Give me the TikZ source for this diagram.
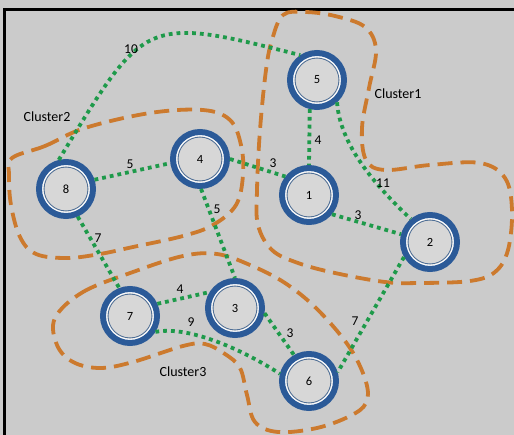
\documentclass[tikz,border=0pt]{standalone}
\usepackage{fontspec}
\setmainfont{Carlito}
\definecolor{bg}{HTML}{CBCBCB}
\definecolor{ringblue}{HTML}{2B5A98}
\definecolor{innerline}{HTML}{4F6F96}
\definecolor{dotgreen}{HTML}{1E9A4A}
\definecolor{clorange}{HTML}{CC7A2E}
\definecolor{innerfill}{HTML}{D7D7D7}
\begin{document}
\begin{tikzpicture}[x=1pt,y=-1pt,
  vertex/.style={circle, draw=ringblue, line width=6pt, fill=innerfill,
    minimum size=54pt, inner sep=0pt, font=\fontsize{12.5}{13}\selectfont,
    path picture={
      \draw[white, line width=1.6pt] (path picture bounding box.center) circle (23.6pt);
      \draw[innerline, line width=0.8pt] (path picture bounding box.center) circle (21.9pt);}},
  link/.style={dotgreen, line width=3.8pt, dash pattern=on 3.8pt off 4pt},
  cluster/.style={clorange, line width=3.8pt, dash pattern=on 15pt off 8pt},
  wlabel/.style={font=\fontsize{13.5}{14}\selectfont, inner sep=0pt},
  clabel/.style={font=\fontsize{14}{15}\selectfont, inner sep=0pt}]
\useasboundingbox (0,0) rectangle (514,435);
\fill[bg] (0,0) rectangle (514,435);
\draw[black, line width=3pt] (4.5,435) -- (4.5,9.5) -- (514,9.5);

% clusters
\draw[cluster] plot[smooth cycle, tension=0.6] coordinates {
  (272,40) (283,15) (305,12) (335,16) (365,27) (376,50) (369,88) (362,128)
  (366,160) (385,170) (430,165) (480,163) (505,178) (512,210) (508,250)
  (495,272) (470,281) (420,283) (385,282) (335,273) (298,263) (272,250)
  (258,225) (257,190) (260,130) (266,70)};
\draw[cluster] plot[smooth cycle, tension=0.6] coordinates {
  (12,158) (45,146) (85,128) (150,113) (203,110) (230,120) (241,145)
  (243,175) (236,205) (213,225) (183,236) (133,247) (100,254) (67,258)
  (36,254) (20,237) (11,205) (9,175)};
\draw[cluster] plot[smooth cycle, tension=0.6] coordinates {
  (55,318) (83,292) (133,272) (183,256) (217,254) (250,265) (285,283)
  (318,310) (350,348) (366,382) (366,403) (350,416) (317,428) (278,432)
  (255,422) (247,395) (240,368) (225,354) (205,344) (183,346) (133,362)
  (100,368) (73,362) (57,345)};

% nodes
\node[vertex] (n5) at (317,80) {5};
\node[vertex] (n4) at (200,159) {4};
\node[vertex] (n8) at (66,189) {8};
\node[vertex] (n1) at (309,195) {1};
\node[vertex] (n2) at (430,242) {2};
\node[vertex] (n7) at (130,316) {7};
\node[vertex] (n3) at (235,308) {3};
\node[vertex] (n6) at (309,381) {6};

% connectors
\draw[link] (n8.104) .. controls (145,18) and (143,15) .. (n5.124);
\draw[link] (n8.18) -- (n4.188);
\draw[link] (n4.0) -- (n1.142);
\draw[link] (n5.256) -- (n1.north);
\draw[link] (n5.-48) .. controls (340,145) and (375,185) .. (n2.130);
\draw[link] (n1.-40) -- (n2.165);
\draw[link] (n4.-88) -- (n3.north);
\draw[link] (n8.-67) -- (n7.111);
\draw[link] (n7.24) -- (n3.148);
\draw[link] (n7.-32) .. controls (185,326) and (235,345) .. (n6.166);
\draw[link] (n3.-10) -- (n6.120);
\draw[link] (n2.210) -- (n6.17);

% weights
\node[wlabel] (w85) at (131,49) {10};
\node[wlabel] (w84) at (130,164) {5};
\node[wlabel] (w41) at (273,163) {3};
\node[wlabel] (w51) at (318,140) {4};
\node[wlabel] (w52) at (383,183) {11};
\node[wlabel] (w12) at (358,215) {3};
\node[wlabel] (w43) at (217,209) {5};
\node[wlabel] (w87) at (98,238) {7};
\node[wlabel] (w73) at (180,289) {4};
\node[wlabel] (w76) at (191,322) {9};
\node[wlabel] (w36) at (290,333) {3};
\node[wlabel] (w26) at (355,321) {7};

% cluster labels
\node[clabel] (c1) at (398,94) {Cluster1};
\node[clabel] (c2) at (47,117) {Cluster2};
\node[clabel] (c3) at (183,372) {Cluster3};
\end{tikzpicture}
\end{document}
